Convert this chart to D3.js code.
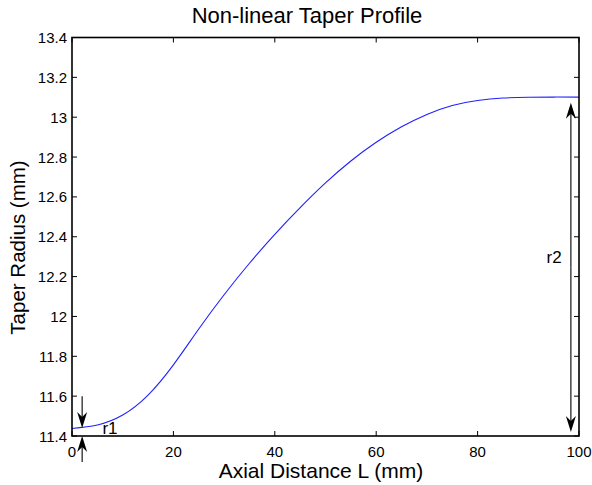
<!DOCTYPE html>
<html><head><meta charset="utf-8">
<script src="https://cdn.jsdelivr.net/npm/d3@7"></script>
<style>
html,body{margin:0;padding:0;background:#fff;}
svg{display:block;font-family:"Liberation Sans",Arial,Helvetica,sans-serif;}
</style></head>
<body>
<svg id="chart" width="592" height="485"></svg>
<script>
// ---- data ----
const axialL = [0,5,10,15,20,25,30,35,40,45,50,55,60,65,70,75,80,85,90,95,100];
const taperRadius = [11.438,11.455,11.505,11.605,11.757,11.937,12.109,12.267,12.412,12.546,12.670,12.780,12.874,12.952,13.014,13.059,13.084,13.096,13.100,13.101,13.101];
const xTicks = [0,20,40,60,80,100];
const yTicks = [11.4,11.6,11.8,12,12.2,12.4,12.6,12.8,13,13.2,13.4];
const titleText = "Non-linear Taper Profile";
const xLabelText = "Axial Distance L (mm)";
const yLabelText = "Taper Radius (mm)";
// annotations (data coordinates)
const r1Label = {text:"r1", L:6, r:11.41};
const r1DownArrow = {L:2, from:11.6, to:11.44};
const r1UpArrow = {L:2, from:11.27, to:11.4};
const r2Label = {text:"r2", L:93.6, r:12.27};
const r2Arrow = {L:98.4, top:13.072, bottom:11.42};

// ---- layout ----
const svg = d3.select("#chart");
const pLeft = 72, pRight = 579, pTop = 37.5, pBottom = 436;
const x = d3.scaleLinear().domain([0,100]).range([pLeft,pRight]);
const y = d3.scaleLinear().domain([11.4,13.4]).range([pBottom,pTop]);

// tick labels
const fs = 15;
svg.append("g").selectAll("text").data(xTicks).join("text")
  .attr("x", d => x(d)).attr("y", pBottom + 21)
  .attr("text-anchor","middle").attr("font-size",fs).text(d => d);
svg.append("g").selectAll("text").data(yTicks).join("text")
  .attr("x", pLeft - 5).attr("y", d => y(d) + 5.5)
  .attr("text-anchor","end").attr("font-size",fs).text(d => d3.format("~g")(d));

// ticks (inward, all four sides)
const tl = 5;
const tg = svg.append("g").attr("stroke","#000").attr("stroke-width",1);
xTicks.forEach(d => {
  tg.append("line").attr("x1",x(d)).attr("x2",x(d)).attr("y1",pBottom).attr("y2",pBottom-tl);
  tg.append("line").attr("x1",x(d)).attr("x2",x(d)).attr("y1",pTop).attr("y2",pTop+tl);
});
yTicks.forEach(d => {
  tg.append("line").attr("x1",pLeft).attr("x2",pLeft+tl).attr("y1",y(d)).attr("y2",y(d));
  tg.append("line").attr("x1",pRight).attr("x2",pRight-tl).attr("y1",y(d)).attr("y2",y(d));
});

// curve
const line = d3.line().x((d,i) => x(axialL[i])).y(d => y(d)).curve(d3.curveNatural);
svg.append("path").datum(taperRadius).attr("d", line)
  .attr("fill","none").attr("stroke","#1f1fff").attr("stroke-width",1.1);

// box
svg.append("rect").attr("x",pLeft).attr("y",pTop).attr("width",pRight-pLeft).attr("height",pBottom-pTop)
  .attr("fill","none").attr("stroke","#000").attr("stroke-width",1.6);

// arrows
function arrow(x1,y1,x2,y2){
  const g = svg.append("g");
  const dx = x2-x1, dy = y2-y1, len = Math.hypot(dx,dy);
  const ux = dx/len, uy = dy/len, px = -uy, py = ux;
  const hl = 16, hw = 5, notch = 11;
  g.append("line").attr("x1",x1).attr("y1",y1).attr("x2",x2-ux*notch).attr("y2",y2-uy*notch)
    .attr("stroke","#000").attr("stroke-width",1.1);
  const pts = [[x2,y2],[x2-ux*hl+px*hw, y2-uy*hl+py*hw],[x2-ux*notch, y2-uy*notch],[x2-ux*hl-px*hw, y2-uy*hl-py*hw]];
  g.append("path").attr("d","M"+pts.map(p=>p.join(",")).join("L")+"Z").attr("fill","#000");
  return g;
}
arrow(x(r1DownArrow.L), y(r1DownArrow.from), x(r1DownArrow.L), y(r1DownArrow.to));
arrow(x(r1UpArrow.L), y(r1UpArrow.from), x(r1UpArrow.L), y(r1UpArrow.to));
// double arrow r2
const ax = x(r2Arrow.L), ay1 = y(r2Arrow.top), ay2 = y(r2Arrow.bottom), mid = (ay1+ay2)/2;
arrow(ax, mid, ax, ay1);
arrow(ax, mid, ax, ay2);

svg.append("text").attr("x",x(r1Label.L)).attr("y",y(r1Label.r)).attr("font-size",17).text(r1Label.text);
svg.append("text").attr("x",x(r2Label.L)).attr("y",y(r2Label.r)).attr("font-size",17).text(r2Label.text);

// titles
svg.append("text").attr("x",307).attr("y",23).attr("text-anchor","middle").attr("font-size",22).text(titleText);
svg.append("text").attr("x",321).attr("y",478).attr("text-anchor","middle").attr("font-size",21).text(xLabelText);
svg.append("text").attr("transform","translate(25,247.5) rotate(-90)").attr("text-anchor","middle").attr("font-size",20.5).text(yLabelText);
</script>
</body></html>
